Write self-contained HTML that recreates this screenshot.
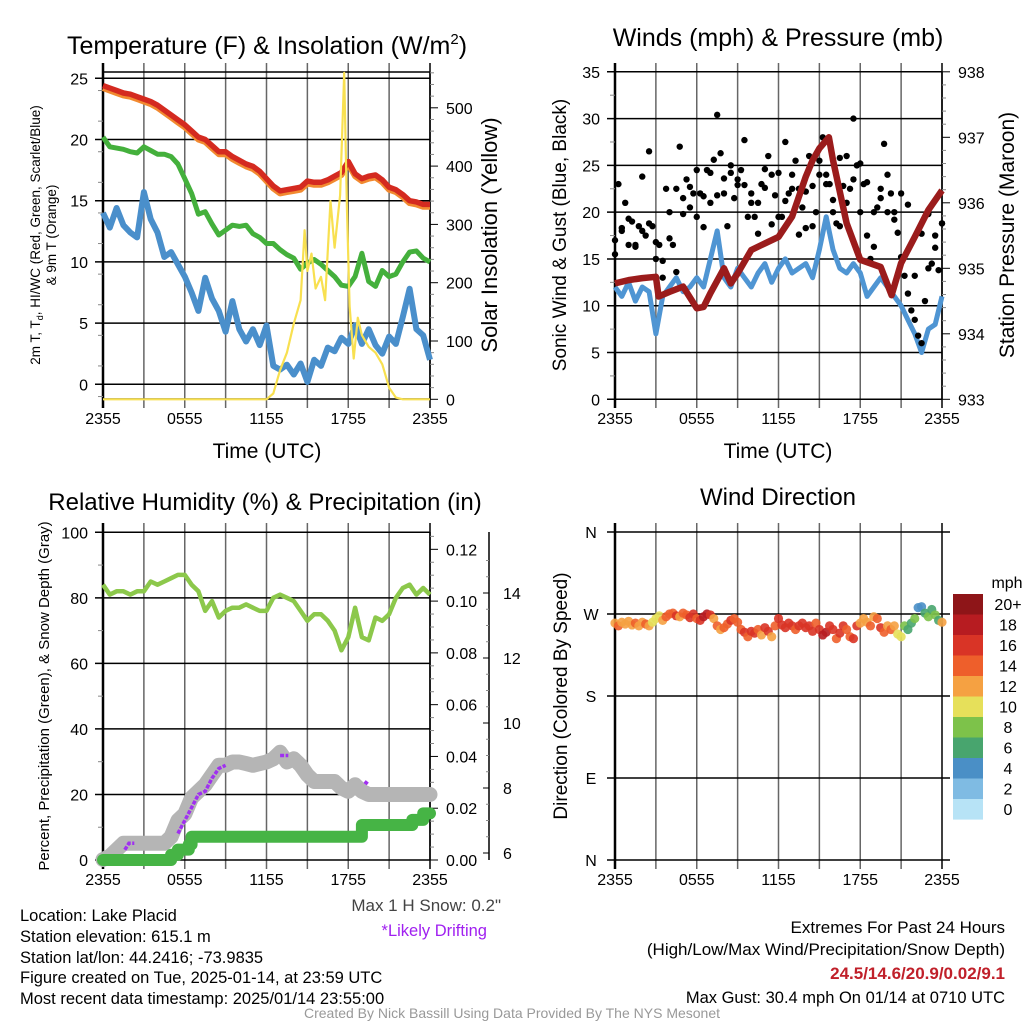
<!DOCTYPE html>
<html><head><meta charset="utf-8">
<style>
body{margin:0;background:#fff;}
svg{display:block;font-family:"Liberation Sans",sans-serif;}
text{fill:#000;}
</style></head>
<body>
<svg id="fig" width="1024" height="1024" viewBox="0 0 1024 1024" xmlns="http://www.w3.org/2000/svg">
<rect width="1024" height="1024" fill="#fff"/>
<g id="p1"></g>
<g id="p2"></g>
<g id="p3"></g>
<g id="p4"></g>
<g id="txt">
<text x="20" y="921" font-size="16.5">Location: Lake Placid</text>
<text x="20" y="942" font-size="16.5">Station elevation: 615.1 m</text>
<text x="20" y="963" font-size="16.5">Station lat/lon: 44.2416; -73.9835</text>
<text x="20" y="983" font-size="16.5">Figure created on Tue, 2025-01-14, at 23:59 UTC</text>
<text x="20" y="1004" font-size="16.5">Most recent data timestamp: 2025/01/14 23:55:00</text>
<text x="501" y="911" font-size="17" text-anchor="end" style="fill:#444">Max 1 H Snow: 0.2"</text>
<text x="487" y="936" font-size="16.5" text-anchor="end" style="fill:#a020f0">*Likely Drifting</text>
<text x="1005" y="933" font-size="17" text-anchor="end">Extremes For Past 24 Hours</text>
<text x="1005" y="955" font-size="17" text-anchor="end">(High/Low/Max Wind/Precipitation/Snow Depth)</text>
<text x="1005" y="979" font-size="17" font-weight="bold" text-anchor="end" style="fill:#c0202a">24.5/14.6/20.9/0.02/9.1</text>
<text x="1005" y="1003" font-size="16.5" text-anchor="end">Max Gust: 30.4 mph On 01/14 at 0710 UTC</text>
<text x="512" y="1018" font-size="14" text-anchor="middle" style="fill:#999">Created By Nick Bassill Using Data Provided By The NYS Mesonet</text>
</g>
</svg>
<script>
// ---------- data (hours since 2355 UTC) ----------
const xTickLabels = ["2355","0555","1155","1755","2355"];
const tempRed = [24.4,24.2,24.0,23.8,23.7,23.5,23.3,23.1,22.8,22.4,22.0,21.6,21.2,20.7,20.2,20.0,19.5,19.0,19.0,18.6,18.3,18.0,17.8,17.4,16.8,16.2,15.8,15.9,16.0,16.1,16.6,16.5,16.5,16.7,17.0,17.3,18.2,17.2,16.8,17.0,17.1,16.7,16.1,15.9,15.5,15.0,14.9,14.7,14.7];
const tempGreen = [20.2,19.4,19.3,19.2,19.0,18.9,19.4,19.1,18.8,18.8,18.6,18.0,16.8,15.6,13.9,14.1,13.1,12.2,12.6,13.0,12.9,13.0,12.3,12.0,11.5,11.5,11.0,10.6,10.3,9.4,9.9,10.2,9.8,9.3,8.8,8.1,8.0,8.8,10.7,8.4,8.0,9.3,8.8,9.0,10.0,10.8,10.9,10.3,10.0];
const tempBlue = [14.0,12.8,14.4,13.0,12.4,12.0,15.7,13.5,12.4,10.4,10.8,9.8,8.8,7.5,6.0,8.7,7.0,6.0,4.3,6.8,4.5,3.5,4.5,3.2,4.8,1.5,1.2,1.6,0.8,1.7,0.2,2.0,1.5,3.0,2.7,3.8,3.3,4.8,3.3,4.5,3.2,2.5,3.9,3.3,5.5,7.8,4.5,4.0,2.0];
const solarTimes = [0,12,12.5,13,13.5,14,14.5,14.8,15,15.3,15.6,16,16.3,16.7,17,17.4,17.7,17.9,18.1,18.4,18.7,19,19.5,20,20.5,21,21.5,22,24];
const solarVals = [0,0,10,50,80,130,170,290,220,250,190,210,170,340,260,350,560,330,160,70,140,110,90,80,60,20,3,0,0];
const windSust = [12,11,12.5,10.5,12,11.5,7,11,12,13,11.5,12,13,12,15,18,13,12,14,13,12,13.5,14.5,12.5,14,15,13.5,14,14.5,13,16,19.5,16,14,13.5,14.5,13.5,11,12,13,12,11,10,8.5,7,5,7.5,8,11];
const pressTimes = [0,1,2,3,3.2,4,5,6,6.5,7,8,8.5,9,10,11,12,13,14,14.5,15,15.7,16,17,18,19.5,20.3,21,22,23,24];
const pressVals = [934.77,934.82,934.85,934.87,934.57,934.64,934.72,934.39,934.41,934.62,935.0,934.77,934.92,935.28,935.38,935.48,935.79,936.4,936.65,936.83,937.0,936.65,935.69,935.13,935.02,934.59,935.08,935.48,935.89,936.19];
const gustA = [15.5,23,18,21,16.5,19,16.5,18.5,18,17.5,26.5,18.5,15,16.5,13,22.5,20,16.5,22.5,27,21.5,23.5,20.5,22,24.5,22,18.4,24.5,21,25.6,30.4,26.3,22,18.5,24.2,21.5,23.5,24.5,22.9,19.5,22,19.5,21,23,22.6,26,24,21.8,24.2,19.5,27.5,22,24,25.5,22.5,20.5,18.3,26,22.8,20,25.5,28,24,23,20,18.8,25.8,22.8,21,22.5,30,25,20,23,17.5,15,16.3,20.5,21.5,27.3,24,22,20,17.8,15.2,13.2,11.3,9.5,8.5,6.8,6,10.5,14,14.5,17.5,13.8,18.8];
const gustB = [17,18.3,19.3,16.3,23.8,18.8,16.8,14.8,17.2,13.6,19.8,22.7,19.5,21.7,24.2,21.8,23.6,25,22.9,27.7,21,17.7,24.6,18.7,19.5,21.2,22.5,17.6,22.2,18.5,24,23,21.3,18.5,26,23.5,25.2,23.2,20,22.5,20,19.2,22,20.8,13.2,17.7,19.8,16.2,18.8];
const rh = [84,81,82,82,81,82,82,85,84,85,86,87,87,84,82,76,79,74,76,77,77,78,77,76,76,80,81,80,79,76,73,75,75,73,70,64,68,77,68,67,74,73,75,80,83,84,81,83,81];
const snowDepth = [5.8,5.9,6.1,6.3,6.3,6.3,6.3,6.3,6.3,6.3,6.5,7.0,7.2,7.7,7.9,8.1,8.4,8.7,8.7,8.8,8.8,8.75,8.7,8.75,8.8,8.9,9.1,8.8,8.9,8.7,8.4,8.2,8.2,8.2,8.2,8.0,7.9,8.1,7.9,7.8,7.8,7.8,7.8,7.8,7.8,7.8,7.8,7.8,7.8];
const driftTimes = [[1.6,1.9,2.3],[5.5,6.0,6.5,7.0,7.5,8.0,8.5,9.0],[13.0,13.6],[19.2,19.5]];
const driftDepth = [[6.1,6.3,6.3],[6.6,7.0,7.4,7.8,7.9,8.3,8.6,8.7],[9.0,9.0],[8.2,8.1]];
const precipTimes = [0,4.7,5.0,5.5,6.3,6.5,19.0,22.7,23.5,24];
const precipVals = [0,0,0.002,0.004,0.006,0.009,0.0135,0.0155,0.018,0.018];
const windDir = [260,257,261,259,262,258,260,257,261,259,257,261,265,268,263,267,270,271,268,267,271,269,266,270,265,263,267,270,269,265,257,253,255,259,263,265,261,253,250,245,251,249,253,247,255,251,245,257,265,258,255,260,257,253,257,260,255,257,251,260,253,247,250,257,253,243,249,257,253,245,243,257,260,265,261,257,267,265,255,250,257,253,257,248,245,257,253,260,265,277,278,271,267,275,269,263,261];
const windSpd = [12,14,12,13,12,12,14,13,12,14,12,10,11,10,12,14,15,15,17,13,15,14,16,17,14,16,18,18,17,12,14,13,15,14,16,15,14,15,16,14,17,16,15,13,17,16,12,15,16,17,16,17,16,15,17,16,16,17,16,15,17,19,18,17,16,15,17,16,15,14,17,16,13,13,12,14,13,15,16,14,13,14,12,10,10,9,7,7,8,4,5,6,8,7,9,7,12];
const cbLabels = ["20+","18","16","14","12","10","8","6","4","2","0"];
const cbColors = ["#8e1518","#b71c21","#d93426","#ee5f2b","#f5a142","#e6e05a","#7dc24a","#48a56e","#4a8fc6","#7fbbe3","#b7e3f6"];

// ---------- helpers ----------
const NS="http://www.w3.org/2000/svg";
function mk(parent,tag,attrs,txt){const e=document.createElementNS(NS,tag);for(const k in attrs)e.setAttribute(k,attrs[k]);if(txt!==undefined)e.textContent=txt;parent.appendChild(e);return e;}
function even(arr){return arr.map((v,i)=>i*24/(arr.length-1));}
function pathD(ts,vs,xf,yf){return ts.map((t,i)=>(i?"L":"M")+xf(t).toFixed(1)+","+yf(vs[i]).toFixed(1)).join("");}

function frame(g,L,R,T,B){
  const xs=t=>L+t/24*(R-L);
  for(let h=0;h<=24;h+=3){
    const x=xs(h);
    const ln=mk(g,"line",{x1:x,x2:x,y1:T-9,y2:B+9,stroke:(h==0||h==24)?"#000":"#666","stroke-width":(h==0)?2.5:1.5});
    
    
  }
  xTickLabels.forEach((lab,i)=>{
    const t=mk(g,"text",{x:xs(i*6),y:B+25,"font-size":16,"text-anchor":"middle"},lab);
    
    
  });
  return xs;
}
function hline(g,x1,x2,y,w,c){const l=mk(g,"line",{x1:x1,x2:x2,y1:y,y2:y,stroke:c||"#000","stroke-width":w||1.5});
  
  return l;}
function minorL(g,x,y,len){mk(g,"line",{x1:x-len,x2:x,y1:y,y2:y,stroke:"#888","stroke-width":1});}
function rotText(g,x,y,size,s,name){const t=mk(g,"text",{x:0,y:0,"font-size":size,"text-anchor":"middle",transform:`translate(${x},${y}) rotate(-90)`},s);
  
  return t;}
function title(g,x,y,size,s,name){const t=mk(g,"text",{x:x,y:y,"font-size":size,"text-anchor":"middle"},s);
  
  return t;}

// ---------- Panel 1: Temperature ----------
(function(){
  const g=document.getElementById("p1");
  const L=103,R=430,T=72,B=399;
  const yL=v=>384.3-v*12.24, yR=v=>399.3-v*0.583;
  const xs=frame(g,L,R,T,B);
  for(let v=0;v<=25;v+=5){hline(g,L-8,R,yL(v));
    const t=mk(g,"text",{x:88,y:yL(v)+6,"font-size":16,"text-anchor":"end"},v);
    
    }
  for(let v=-1;v<=25;v+=2.5)if(v%5)minorL(g,L,yL(v),5);
  hline(g,L,R,T,1.5);hline(g,L,R,B,1.5);
  mk(g,"line",{x1:R,x2:R,y1:T,y2:B,stroke:"#000","stroke-width":1.5});
  for(let v=0;v<=560;v+=20){const big=v%100==0;mk(g,"line",{x1:R,x2:R+(big?8:4),y1:yR(v),y2:yR(v),stroke:big?"#000":"#888","stroke-width":1});
    if(big&&v<=500){const t=mk(g,"text",{x:446,y:yR(v)+6,"font-size":16},v);
      
      }}
  const tt=even(tempRed);
  const orange=mk(g,"path",{d:pathD(tt,tempRed.map(v=>v-0.2),xs,yL),fill:"none",stroke:"#f28a30","stroke-width":6,"stroke-linejoin":"round"});
  
  
  const red=mk(g,"path",{d:pathD(tt,tempRed,xs,yL),fill:"none",stroke:"#d42a20","stroke-width":5.5,"stroke-linejoin":"round"});
  
  
  const gr=mk(g,"path",{d:pathD(even(tempGreen),tempGreen,xs,yL),fill:"none",stroke:"#44b03c","stroke-width":5,"stroke-linejoin":"round"});
  
  
  const bl=mk(g,"path",{d:pathD(even(tempBlue),tempBlue,xs,yL),fill:"none",stroke:"#4a8fcb","stroke-width":6,"stroke-linejoin":"round"});
  
  
  const ye=mk(g,"path",{d:pathD(solarTimes,solarVals,xs,yR),fill:"none",stroke:"#f8e050","stroke-width":2.2,"stroke-linejoin":"round"});
  
  
  title(g,267,54,25,"","chart-title").innerHTML='Temperature (F) &amp; Insolation (W/m<tspan dy="-10" font-size="15">2</tspan><tspan dy="10">)</tspan>';
  title(g,267,458,21,"Time (UTC)","x-axis-title");
  rotText(g,497,235,22,"Solar Insolation (Yellow)","right-axis-title");
  rotText(g,40,235,13.5,"","left-axis-title").innerHTML='2m T, T<tspan dy="3" font-size="9">d</tspan><tspan dy="-3">, HI/WC (Red, Green, Scarlet/Blue)</tspan>';
  rotText(g,56,235,13.5,"& 9m T (Orange)","left-axis-title-2");
})();

// ---------- Panel 2: Winds ----------
(function(){
  const g=document.getElementById("p2");
  const L=615,R=942,T=72,B=399;
  const yL=v=>399.3-v*9.357, yR=p=>399.3-(p-933)*65.5;
  const xs=frame(g,L,R,T,B);
  for(let v=0;v<=35;v+=5){hline(g,L-8,R,yL(v));
    const t=mk(g,"text",{x:600,y:yL(v)+6,"font-size":16,"text-anchor":"end"},v);
    
    }
  for(let v=2.5;v<35;v+=5)minorL(g,L,yL(v),5);
  mk(g,"line",{x1:R,x2:R,y1:T,y2:B,stroke:"#000","stroke-width":1.5});
  for(let p=933;p<=938.001;p+=0.2){const big=Math.abs(p-Math.round(p))<0.01;mk(g,"line",{x1:R,x2:R+(big?8:4),y1:yR(p),y2:yR(p),stroke:big?"#000":"#888","stroke-width":1});
    if(big){const t=mk(g,"text",{x:958,y:yR(p)+6,"font-size":16},Math.round(p));
      
      }}
  const ws=mk(g,"path",{d:pathD(even(windSust),windSust,xs,yL),fill:"none",stroke:"#4f95d3","stroke-width":5,"stroke-linejoin":"round"});
  
  
  [gustA,gustB].forEach(arr=>{const ts=even(arr);arr.forEach((v,i)=>{
    const c=mk(g,"circle",{cx:xs(ts[i]),cy:yL(v),r:3.2,fill:"#000"});
    
    });});
  const pr=mk(g,"path",{d:pathD(pressTimes,pressVals,xs,yR),fill:"none",stroke:"#9b1c1c","stroke-width":6.5,"stroke-linejoin":"round"});
  
  
  title(g,778,46,25,"Winds (mph) & Pressure (mb)","chart-title");
  title(g,778,458,21,"Time (UTC)","x-axis-title");
  rotText(g,566,235,19,"Sonic Wind & Gust (Blue, Black)","left-axis-title");
  rotText(g,1014,235,21,"Station Pressure (Maroon)","right-axis-title");
})();

// ---------- Panel 3: RH & precip ----------
(function(){
  const g=document.getElementById("p3");
  const L=103,R=430,T=532,B=860;
  const yL=v=>860-v*3.277, yP=v=>860-v*2589, yS=d=>853-(d-6)*32.5;
  const xs=frame(g,L,R,T,B);
  for(let v=0;v<=100;v+=20){hline(g,L-8,R,yL(v));
    const t=mk(g,"text",{x:88,y:yL(v)+6,"font-size":16,"text-anchor":"end"},v);
    
    }
  for(let v=10;v<100;v+=20)minorL(g,L,yL(v),5);
  mk(g,"line",{x1:R,x2:R,y1:T,y2:B,stroke:"#000","stroke-width":1.5});
  for(let k=0;k<=25;k++){const v=k*0.005;const big=k%4==0;mk(g,"line",{x1:R,x2:R+(big?8:4),y1:yP(v),y2:yP(v),stroke:big?"#000":"#888","stroke-width":1});
    if(big){const t=mk(g,"text",{x:446,y:yP(v)+6,"font-size":16},v.toFixed(2));
      
      }}
  mk(g,"line",{x1:489,x2:489,y1:T,y2:B,stroke:"#000","stroke-width":1.5});
  for(let d=6;d<=15;d+=0.5){const big=d%2==0;mk(g,"line",{x1:489,x2:489+(big?-6:-3),y1:yS(d),y2:yS(d),stroke:big?"#000":"#888","stroke-width":1});
    if(big){const t=mk(g,"text",{x:503,y:yS(d)+6,"font-size":16},d);
      
      }}
  const sn=mk(g,"path",{d:pathD(even(snowDepth),snowDepth,xs,yS),fill:"none",stroke:"#b5b5b5","stroke-width":15,"stroke-linejoin":"round","stroke-linecap":"round"});
  
  
  driftTimes.forEach((ts,j)=>{const p=mk(g,"path",{d:pathD(ts,driftDepth[j],xs,yS),fill:"none",stroke:"#a030f0","stroke-width":3.5,"stroke-dasharray":"4 1.5"});
    
    });
  const pc=mk(g,"path",{d:precipTimes.map((t,i)=>(i?"H"+xs(t).toFixed(1)+"V":"M"+xs(t).toFixed(1)+",")+yP(precipVals[i]).toFixed(1)).join(""),fill:"none",stroke:"#46b445","stroke-width":12,"stroke-linejoin":"round","stroke-linecap":"round"});
  
  
  const rl=mk(g,"path",{d:pathD(even(rh),rh,xs,yL),fill:"none",stroke:"#8cc84b","stroke-width":4.5,"stroke-linejoin":"round"});
  
  
  title(g,265,510,24,"Relative Humidity (%) & Precipitation (in)","chart-title");
  rotText(g,49,696,15,"Percent, Precipitation (Green), & Snow Depth (Gray)","left-axis-title");
})();

// ---------- Panel 4: Wind direction ----------
(function(){
  const g=document.getElementById("p4");
  const L=615,R=942,T=532,B=860;
  const yD=d=>860-d*0.9111;
  const xs=frame(g,L,R,T,B);
  ["N","E","S","W","N"].forEach((lab,i)=>{hline(g,L-8,R+8,yD(i*90));
    const t=mk(g,"text",{x:591,y:yD(i*90)+6,"font-size":16,"text-anchor":"middle"},lab);
    
    });
  const ts=even(windDir);
  function col(s){let k=Math.min(10,Math.floor(s/2));return cbColors[10-k];}
  windDir.forEach((d,i)=>{const c=mk(g,"circle",{cx:xs(ts[i]),cy:yD(d),r:4.6,fill:col(windSpd[i]),"fill-opacity":0.9});
    
    });
  const cb=mk(g,"g",{});
  
  
  cbColors.forEach((c,i)=>{mk(cb,"rect",{x:953,y:594+i*20.5,width:30,height:20.6,fill:c});
    const t=mk(cb,"text",{x:1008,y:594+i*20.5+16,"font-size":16,"text-anchor":"middle"},cbLabels[i]);
    
    });
  mk(cb,"text",{x:1007,y:588,"font-size":16,"text-anchor":"middle"},"mph");
  title(g,778,505,24,"Wind Direction","chart-title");
  rotText(g,567,696,19,"Direction (Colored By Speed)","left-axis-title");
})();
</script>
</body></html>
